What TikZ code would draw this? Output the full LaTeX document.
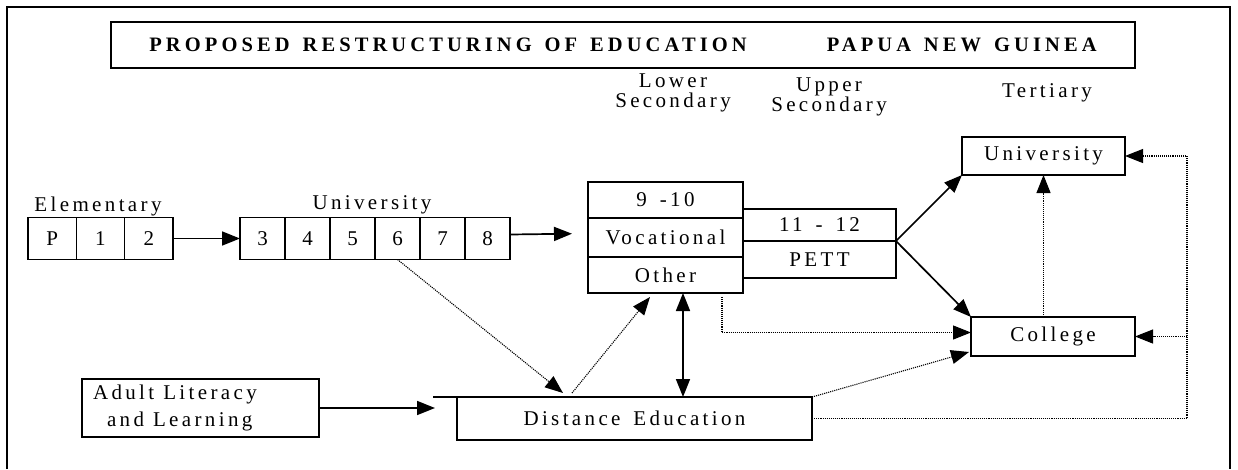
\documentclass[tikz,border=0pt]{standalone}
\usepackage{fontspec}
\setmainfont{Liberation Serif}
\newfontfamily\spacedfont[LetterSpace=16, WordSpace=1.5]{Liberation Serif}
\newfontfamily\titlefont[LetterSpace=20, WordSpace=1.4]{Liberation Serif}
\usetikzlibrary{positioning, arrows.meta, calc}
\tikzset{
stage/.style={draw, line width=1.5pt, inner sep=0, outer sep=0, font=\spacedfont\fontsize{21}{21}\selectfont},
grade/.style={stage, minimum height=42pt, font=\fontsize{21}{21}\selectfont},
head/.style={inner sep=0, align=center, font=\spacedfont\fontsize{21}{20}\selectfont},
flow/.style={line width=1.7pt, -{Triangle[length=18pt, width=14pt]}},
link/.style={line width=1.1pt, densely dotted, -{Triangle[length=18pt, width=14pt]}}}
\begin{document}
\begin{tikzpicture}[x=1pt, y=-1pt]
\useasboundingbox (0,0) rectangle (1238,469);
\draw [line width=1.7pt] (7,469) -- (7,7) -- (1230,7) -- (1230,469);
\node [stage, minimum width=1024pt, minimum height=46pt, font=\titlefont\bfseries\fontsize{20.5}{22}\selectfont] (title) at (623,45)
  {PROPOSED RESTRUCTURING OF EDUCATION\hspace{80pt}PAPUA NEW GUINEA};
% stage headings
\node [head] (lower) at (673,93) {Lower\\Secondary};
\node [head] (upper) at (829,97) {Upper\\Secondary};
\node [head] (tertiary) at (1047,93) {Tertiary};
% grades
\foreach \g [count=\i] in {P,1,2}
  \node [grade, minimum width=48.33pt] (e-\i) at ({28+48.33*(\i-0.5)},238.5) {\g};
\node [head] (elem) at (98,206) {Elementary};
\foreach \g [count=\i] in {3,...,8}
  \node [grade, minimum width=45pt] (g-\g) at ({240+45*(\i-0.5)},238.5) {\g};
\node [head] (prim) at (372,205) {University};
\draw [flow] (e-3.east) -- (g-3.west);
% secondary
\node [stage, minimum width=155pt, minimum height=36pt] (ls-a) at (665.5,200) {9 -10};
\node [stage, minimum width=155pt, minimum height=39pt, below=0pt of ls-a] (voc) {Vocational};
\node [stage, minimum width=155pt, minimum height=36pt, below=0pt of voc] (other) {Other};
\node [stage, minimum width=153pt, minimum height=32pt] (us-a) at (819.5,225) {11 - 12};
\node [stage, minimum width=153pt, minimum height=37pt, below=0pt of us-a] (pett) {PETT};
\draw [flow, shorten >=16pt] ($(g-8.east)+(0,-4)$) -- ($(voc.west)+(0,-4)$);
% tertiary
\node [stage, minimum width=163pt, minimum height=38pt] (uni) at (1043.5,156) {University};
\node [stage, minimum width=164pt, minimum height=39pt] (college) at (1053,336.5) {College};
\draw [flow] (pett.north east) -- (uni.south west);
\draw [flow] (pett.north east) -- (college.north west);
\draw [link] (college.north -| uni.south) -- (uni.south);
% distance and adult
\node [stage, minimum width=355pt, minimum height=43pt] (dist) at (634.5,418.5) {Distance Education};
\draw [line width=1.5pt] (dist.north west) -- ++(-24,0);
\node [stage, minimum width=237pt, minimum height=58pt, text width=215pt, align=left,
  font=\spacedfont\fontsize{21}{27}\selectfont] (adult) at (200.5,408)
  {Adult\hspace{9pt}Literacy\\\hspace*{14pt}and\hspace{9pt}Learning};
\draw [flow, shorten >=22pt] (adult.east) -- (adult.east -| dist.west);
\draw [flow, {Triangle[length=18pt, width=14pt]}-{Triangle[length=18pt, width=14pt]}]
  ($(other.south)+(17.5,0)$) -- ($(dist.north)+(48.5,0)$);
% dotted links
\draw [link] (g-6.south) -- ($(dist.north west)+(106,-4)$);
\draw [link] ($(dist.north west)+(115,-4)$) -- ($(other.south west)+(62,4)$);
\draw [link] ($(other.south east)+(-21,4)$) |- ($(college.west)+(0,-4)$);
\draw [link] (dist.north east) -- ($(college.south west)+(-2,-4)$);
\coordinate (loop) at (1187,0);
\draw [link] (dist.east) -| (loop |- uni.east) -- (uni.east);
\draw [link] (loop |- college.east) -- (college.east);
\end{tikzpicture}
\end{document}
